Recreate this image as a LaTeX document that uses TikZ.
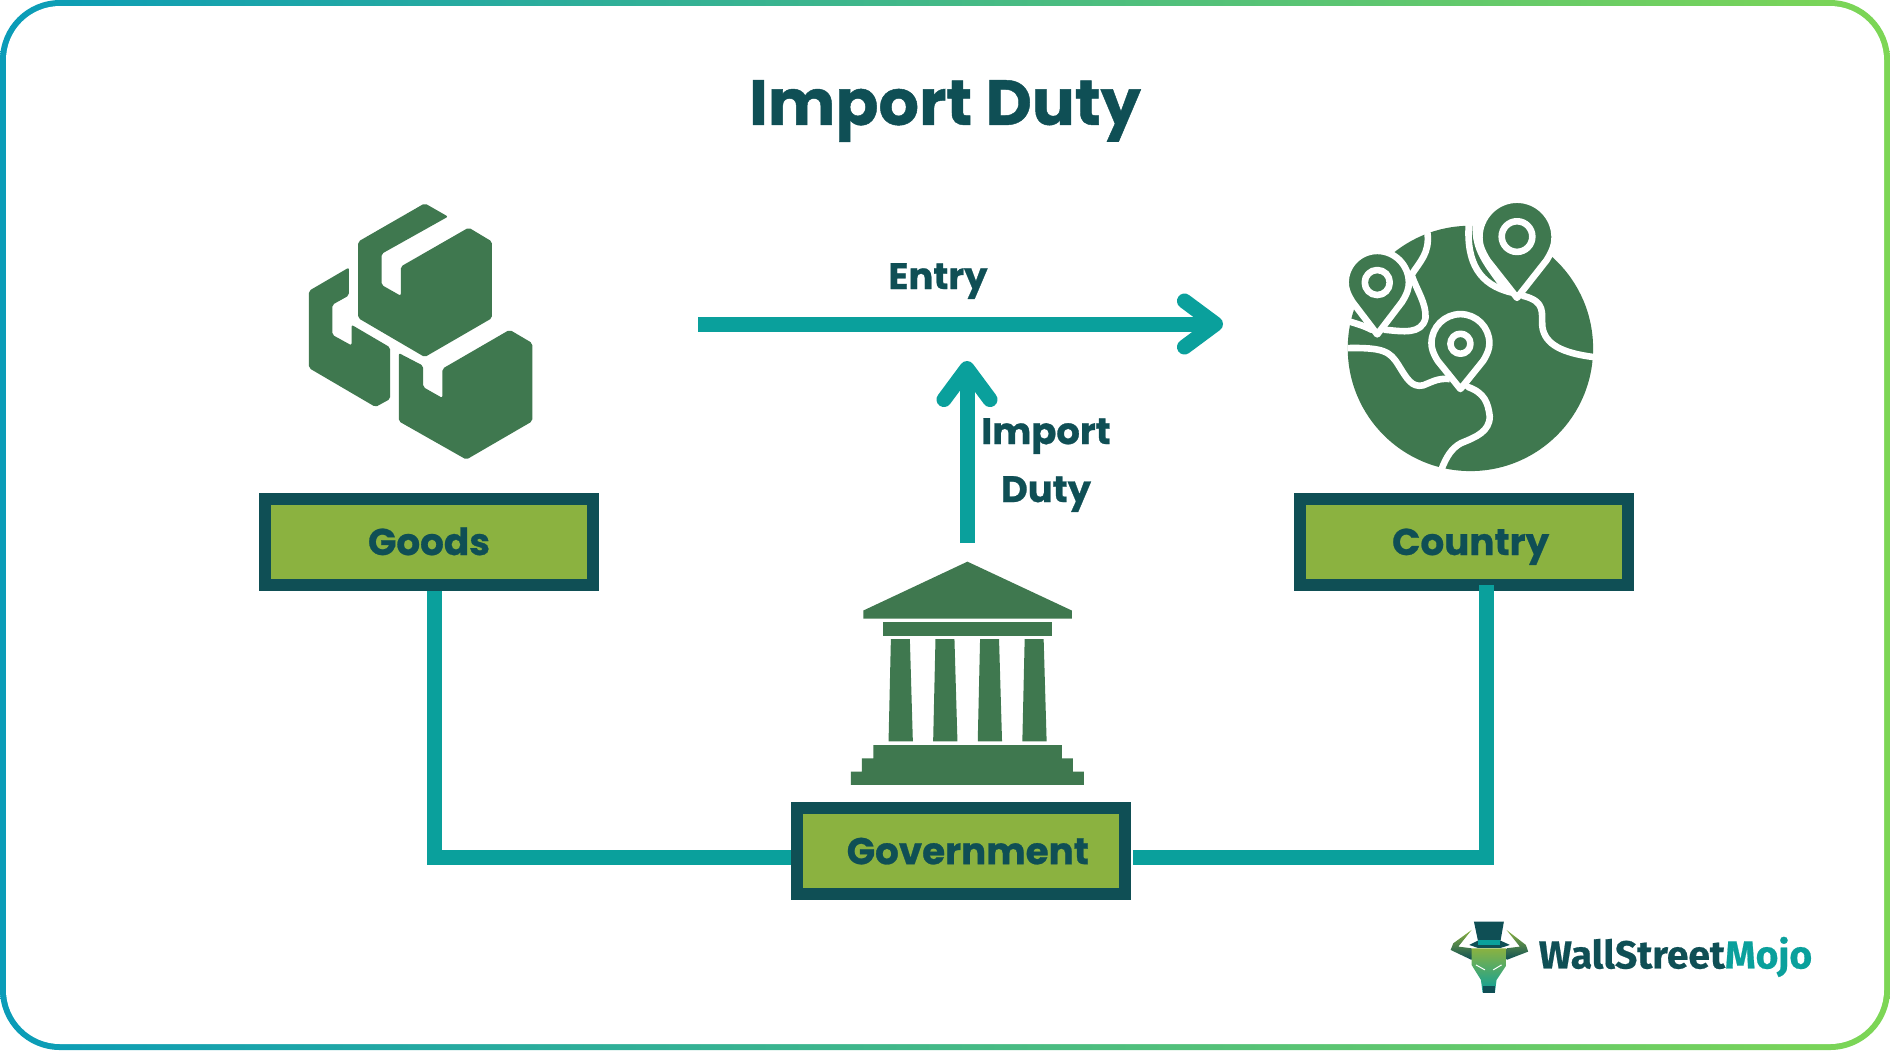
\documentclass[tikz,border=0pt]{standalone}
\usepackage{fontspec}
\setmainfont{Poppins}[BoldFeatures={FakeBold=.7}]
\newfontfamily\logofont{Fira Sans}[BoldFeatures={FakeBold=.5}]
\usetikzlibrary{arrows.meta,positioning}
\definecolor{inkdark}{HTML}{0F4F55}
\definecolor{linkteal}{HTML}{0AA09C}
\definecolor{icongreen}{HTML}{3F784F}
\definecolor{boxgreen}{HTML}{8BB240}
\definecolor{edgeblue}{HTML}{0A9CB8}
\definecolor{edgelime}{HTML}{7DD655}
\tikzset{
    namebox/.style={draw=inkdark, fill=boxgreen, line width=1.2mm, minimum width=3.28cm,
        minimum height=.86cm, text height=3.1mm, text depth=.5mm, text=inkdark,
        font=\bfseries\fontsize{10.6}{12}\selectfont},
    flowtext/.style={text=inkdark, align=center, font=\bfseries\fontsize{10.5}{16.5}\selectfont},
    link/.style={draw=linkteal, line width=1.5mm},
    flow/.style={link, -{Straight Barb[round,length=3.1mm,width=4.6mm]}},
    icon/.style={fill=icongreen, rounded corners=.2mm},
    zoomed/.style={x=.00333cm, y=-.00333cm},
}
% teardrop marker: x, y, radius, tip y
\newcommand{\pinpath}[4]{(#1,#4) -- ({#1-.78*#3},{#2+.62*#3})
    .. controls ({#1-.95*#3},{#2+.35*#3}) and ({#1-#3},{#2+.18*#3}) .. ({#1-#3},#2)
    .. controls ({#1-#3},{#2-.55*#3}) and ({#1-.55*#3},{#2-#3}) .. (#1,{#2-#3})
    .. controls ({#1+.55*#3},{#2-#3}) and ({#1+#3},{#2-.55*#3}) .. ({#1+#3},#2)
    .. controls ({#1+#3},{#2+.18*#3}) and ({#1+.95*#3},{#2+.35*#3}) .. ({#1+.78*#3},{#2+.62*#3}) -- cycle}
\begin{document}
\begin{tikzpicture}[x=.01cm, y=-.01cm, on grid]
    \useasboundingbox (0,0) rectangle (1890,1050);

    % frame
    \begin{scope}
        \clip[rounded corners=.6cm] (0,0) rectangle (1890,1050);
        \shade[left color=edgeblue, right color=edgelime] (0,0) rectangle (1890,1050);
        \fill[white, rounded corners=.54cm] (6,6) rectangle (1884,1044);
    \end{scope}

    \node[text=inkdark, font=\bfseries\fontsize{18.1}{22}\selectfont] (title) at (945,111) {Import Duty};

    % boxes
    \node[namebox] (goods) at (429,542) {Goods};
    \node[namebox, right=10.34cm of goods] (country) {\kern1.4mm Country};
    \node[namebox, below right=3.09cm and 5.315cm of goods] (gov) {\kern1.4mm Government};

    \coordinate (entrystart) at (698,324);
    \coordinate (entryend) at (1223,324);
    \coordinate (dutystart) at (967,543);
    \coordinate (dutyend) at (967,361);

    \draw[link] ([xshift=.55mm]goods.south) |- ([yshift=-.6mm]gov.west);
    \draw[link] ([xshift=.2mm,yshift=-.6mm]gov.east) -| ([xshift=.23cm,yshift=.6mm]country.south);
    \draw[flow] (entrystart) -- (entryend);
    \draw[flow] (dutystart) -- (dutyend);

    \node[flowtext] (entry) at (938,281) {Entry};
    \node[flowtext] (duty) at (1046,465) {Import\\Duty};

    % boxes icon
    \begin{scope}[shift={(280,180)}, zoomed]
        \fill[icon] (505,110) -- (435,70) -- (235,185) -- (235,415) -- (435,532) -- (637,415)
            -- (637,185) -- (567,143) -- (363,260) -- (363,348) -- (305,315) -- (305,222) -- cycle;
        \fill[icon] (207,263) -- (87,333) -- (87,565) -- (287,682) -- (331,658) -- (331,503)
            -- (215,435) -- (215,497) -- (157,465) -- (157,375) -- (207,347) -- cycle;
        \fill[icon] (357,520) -- (357,725) -- (560,840) -- (758,725) -- (758,490) -- (690,450)
            -- (488,567) -- (488,655) -- (430,622) -- (430,558) -- cycle;
    \end{scope}

    % globe icon
    \begin{scope}[shift={(1320,180)}, zoomed, every path/.append style={line join=round, line cap=round}]
        \fill[icongreen] (452,506) circle (1.226cm);
        \begin{scope}[draw=white, line width=.66mm]
            \draw (447,135) .. controls (440,250) and (480,315) .. (575,338);
            \draw (468,135) .. controls (465,210) and (500,250) .. (555,325);
            \draw (610,348) .. controls (680,365) and (665,400) .. (668,440) .. controls (675,495) and (730,520) .. (822,532);
            \draw[line cap=butt] (84,505) .. controls (190,503) and (210,515) .. (235,555)
                .. controls (260,595) and (275,625) .. (310,617) .. controls (340,605) and (355,595) .. (390,598);
            \draw (445,622) .. controls (495,640) and (505,670) .. (510,710) .. controls (510,755) and (470,772) .. (425,790)
                .. controls (395,805) and (378,835) .. (365,870);
            \draw (323,160) .. controls (330,220) and (300,245) .. (275,285) .. controls (290,330) and (320,370) .. (317,415)
                .. controls (305,465) and (250,455) .. (195,450);
            \draw (88,425) .. controls (110,432) and (130,437) .. (155,450);
        \end{scope}
        \filldraw[fill=icongreen, draw=white, line width=.66mm] \pinpath{172}{308}{95}{464};
        \filldraw[fill=icongreen, draw=white, line width=.66mm] \pinpath{592}{172}{113}{354};
        \filldraw[fill=icongreen, draw=white, line width=.66mm] \pinpath{422}{490}{87}{628};
        \filldraw[fill=icongreen, draw=white, line width=.66mm] (172,308) circle (.125cm);
        \filldraw[fill=icongreen, draw=white, line width=.66mm] (592,170) circle (.153cm);
        \filldraw[fill=icongreen, draw=white, line width=.66mm] (422,492) circle (.1cm);
    \end{scope}

    % building icon
    \begin{scope}[shift={(820,540)}, zoomed]
        \fill[icongreen] (443,65) -- (757,212) -- (757,236) -- (130,236) -- (130,212) -- cycle;
        \fill[icongreen] (190,247) rectangle (696,287);
        \foreach \c in {0,134,268,402}
            \fill[icongreen] ({213+\c},298) -- ({270+\c},298) -- ({279+\c},605) -- ({206+\c},605) -- cycle;
        \fill[icongreen] (160,616) -- (727,616) -- (727,656) -- (760,656) -- (760,696) -- (793,696)
            -- (793,736) -- (93,736) -- (93,696) -- (126,696) -- (126,656) -- (160,656) -- cycle;
    \end{scope}

    % logo
    \begin{scope}[shift={(1430,900)}, zoomed]
        \shade[top color=boxgreen, bottom color=inkdark]
            (125,90) -- (70,130) -- (62,150) -- (125,180) -- (125,145) -- (85,140) -- cycle;
        \shade[top color=boxgreen, bottom color=inkdark]
            (230,90) -- (288,135) -- (295,155) -- (230,180) -- (230,145) -- (270,140) -- cycle;
        \shade[top color=boxgreen, middle color=boxgreen, bottom color=linkteal]
            (125,145) -- (230,145) -- (230,195) -- (200,240) -- (195,278) -- (158,278) -- (153,240) -- (125,195) -- cycle;
        \fill[inkdark] (158,258) rectangle (195,278);
        \fill[inkdark] (132,65) -- (222,65) -- (212,122) -- (144,122) -- cycle;
        \fill[inkdark] (118,135) -- (144,122) -- (212,122) -- (240,135) -- (212,144) -- (144,144) -- cycle;
        \fill[linkteal] (144,121) rectangle (210,136);
        \draw[white, line width=.1mm] (138,195) -- (165,210) (215,195) -- (190,210);
        \node[anchor=west, inner sep=0pt, font=\logofont\bfseries\fontsize{11.1}{13}\selectfont, text=inkdark] (logo) at (325,171)
            {WallStreet\textcolor{linkteal}{Mojo}};
    \end{scope}
\end{tikzpicture}
\end{document}
